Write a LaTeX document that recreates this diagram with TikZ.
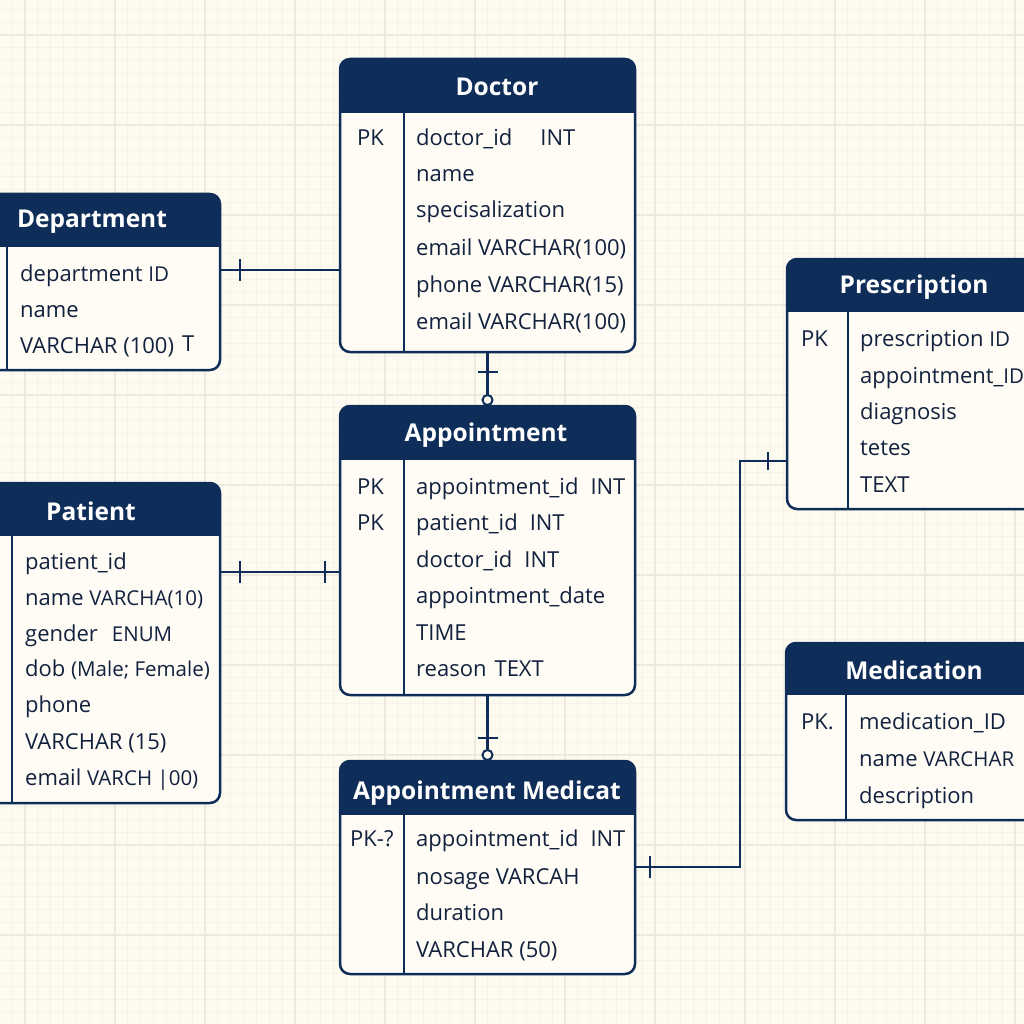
\documentclass[tikz,border=0pt]{standalone}
\usepackage{fontspec}
\setmainfont{Open Sans}
\usetikzlibrary{calc}
\definecolor{navy}{RGB}{14,45,88}
\definecolor{ink}{RGB}{18,33,62}
\definecolor{bg}{RGB}{253,251,240}
\definecolor{boxbg}{RGB}{254,252,245}
\definecolor{gridminor}{RGB}{245,242,232}
\definecolor{gridmajor}{RGB}{237,233,222}
\newcommand\sm[1]{{\fontsize{20.5pt}{23pt}\selectfont #1}}
\newcommand\ertable[7]{%
  \node[inner sep=0pt, outer sep=0pt, minimum width={(#4-#2)*1pt}, minimum height={(#5-#3)*1pt}] (#1) at ({(#2+#4)/2},{(#3+#5)/2}) {};
  \fill[boxbg, rounded corners=10pt] (#1.north west) rectangle (#1.south east);
  \begin{scope}
    \clip[rounded corners=10pt] (#1.north west) rectangle (#1.south east);
    \fill[navy] (#1.north west) rectangle ({#4},{#3+#6});
  \end{scope}
  \draw[border] ({#7},{#3+#6}) -- ({#7},{#5});
  \draw[border, rounded corners=10pt] (#1.north west) rectangle (#1.south east);
}
\tikzset{
  border/.style={draw=navy, line width=2.5pt},
  conn/.style={draw=navy, line width=2.5pt},
  ttl/.style={text=white, font=\bfseries\fontsize{24.5pt}{28pt}\selectfont, inner sep=0pt},
  fld/.style={text=ink, font=\fontsize{22pt}{26pt}\selectfont, inner sep=0pt, anchor=base west},
}
\begin{document}
\begin{tikzpicture}[x=1pt,y=-1pt]
\useasboundingbox (0,0) rectangle (1024,1024);
\clip (0,0) rectangle (1024,1024);
\fill[bg] (0,0) rectangle (1024,1024);
\foreach \k in {-2,...,80} {
  \draw[gridminor, line width=0.8pt] ({25+\k*90/7},0) -- ({25+\k*90/7},1024);
  \draw[gridminor, line width=0.8pt] (0,{35+\k*90/7}) -- (1024,{35+\k*90/7});
}
\foreach \k in {-1,...,11} {
  \draw[gridmajor, line width=1.1pt] ({25+\k*90},0) -- ({25+\k*90},1024);
  \draw[gridmajor, line width=1.1pt] (0,{35+\k*90}) -- (1024,{35+\k*90});
}

% tables
\ertable{doc}{340}{59}{635}{352}{54}{404}
\ertable{dept}{-40}{194}{220}{370}{53}{7}
\ertable{pat}{-40}{483}{220}{803}{53}{12}
\ertable{appt}{340}{406}{635}{695}{54}{404}
\ertable{amed}{340}{761}{635}{974}{54}{404}
\ertable{presc}{787}{259}{1090}{509}{53}{848}
\ertable{med}{786}{643}{1090}{820}{52}{846}

% titles
\node[ttl] (doct) at (497,87) {Doctor};
\node[ttl] (deptt) at (92,222) {Department};
\node[ttl] (patt) at (91,511) {Patient};
\node[ttl] (apptt) at (486,435) {Appointment};
\node[ttl] (amedt) at (487,793) {Appointment Medicat};
\node[ttl] (presct) at (914,287) {Prescription};
\node[ttl] (medt) at (914,670) {Medication};

% Doctor fields
\node[fld] (dpk) at (357,146) {PK};
\node[fld] (d1) at (416,146) {doctor\_id\hspace{28pt}INT};
\node[fld] (d2) at (416,182) {name};
\node[fld] (d3) at (416,218) {specisalization};
\node[fld] (d4) at (416,255) {email VARCHAR(100)};
\node[fld] (d5) at (416,292) {phone VARCHAR(15)};
\node[fld] (d6) at (416,329) {email VARCHAR(100)};

% Department fields
\node[fld] (e1) at (20,281) {department \sm{ID}};
\node[fld] (e2) at (20,317) {name};
\node[fld] (e3) at (20,353) {VARCHAR (100)\hspace{8pt}\raisebox{2pt}{T}};

% Patient fields
\node[fld] (p1) at (25,569) {patient\_id};
\node[fld] (p2) at (25,605) {name \sm{VARCHA(10)}};
\node[fld] (p3) at (25,641) {gender\hspace{14pt}\sm{ENUM}};
\node[fld] (p4) at (25,676) {dob \sm{(Male; Female)}};
\node[fld] (p5) at (25,712) {phone};
\node[fld] (p6) at (25,749) {VARCHAR (15)};
\node[fld] (p7) at (25,785) {email \sm{VARCH |00)}};

% Appointment fields
\node[fld] (apk1) at (357,494) {PK};
\node[fld] (apk2) at (357,530) {PK};
\node[fld] (a1) at (416,494) {appointment\_id\hspace{12pt}INT};
\node[fld] (a2) at (416,530) {patient\_id\hspace{12pt}INT};
\node[fld] (a3) at (416,567) {doctor\_id\hspace{12pt}INT};
\node[fld] (a4) at (416,603) {appointment\_date};
\node[fld] (a5) at (416,640) {TIME};
\node[fld] (a6) at (416,676) {reason\hspace{8pt}TEXT};

% Appointment Medicat fields
\node[fld] (mpk) at (350,846) {PK-?};
\node[fld] (m1) at (416,846) {appointment\_id\hspace{12pt}INT};
\node[fld] (m2) at (416,884) {nosage VARCAH};
\node[fld] (m3) at (416,920) {duration};
\node[fld] (m4) at (416,957) {VARCHAR (50)};

% Prescription fields
\node[fld] (rpk) at (801,346) {PK};
\node[fld] (r1) at (860,346) {prescription \sm{ID}};
\node[fld] (r2) at (860,383) {appointment\_\sm{ID}};
\node[fld] (r3) at (860,419) {diagnosis};
\node[fld] (r4) at (860,455) {tetes};
\node[fld] (r5) at (860,492) {TEXT};

% Medication fields
\node[fld] (npk) at (801,729) {PK.};
\node[fld] (n1) at (859,729) {medication\_ID};
\node[fld] (n2) at (859,766) {name \sm{VARCHAR}};
\node[fld] (n3) at (859,803) {description};

% connectors
% Department - Doctor
\draw[conn] (dept.east |- 0,270) -- (doc.west |- 0,270);
\draw[conn] ($(dept.east |- 0,270)+(20,-11)$) -- ($(dept.east |- 0,270)+(20,11)$);
% Doctor - Appointment
\draw[conn] (doc.south) -- ($(appt.north)+(0,-11)$);
\draw[conn] ($(doc.south)+(-10,20)$) -- ($(doc.south)+(10,20)$);
\draw[conn, line width=2pt, fill=bg] ($(appt.north)+(0,-6)$) circle[radius=5pt];
% Patient - Appointment
\draw[conn] (pat.east |- 0,572) -- (appt.west |- 0,572);
\draw[conn] ($(pat.east |- 0,572)+(20,-11)$) -- ($(pat.east |- 0,572)+(20,11)$);
\draw[conn] ($(appt.west |- 0,572)+(-15,-11)$) -- ($(appt.west |- 0,572)+(-15,11)$);
% Appointment - Appointment Medicat
\draw[conn] (appt.south) -- ($(amed.north)+(0,-11)$);
\draw[conn] ($(appt.south)+(-10,43)$) -- ($(appt.south)+(10,43)$);
\draw[conn, line width=2pt, fill=bg] ($(amed.north)+(0,-6)$) circle[radius=5pt];
% Appointment Medicat - Prescription
\coordinate (bend) at (740,461);
\draw[conn] (amed.east |- 0,867) -| (bend) -- (presc.west |- bend);
\draw[conn] ($(amed.east |- 0,867)+(15,-11)$) -- ($(amed.east |- 0,867)+(15,11)$);
\draw[conn] ($(presc.west |- bend)+(-19,-9)$) -- ($(presc.west |- bend)+(-19,9)$);
\end{tikzpicture}
\end{document}
